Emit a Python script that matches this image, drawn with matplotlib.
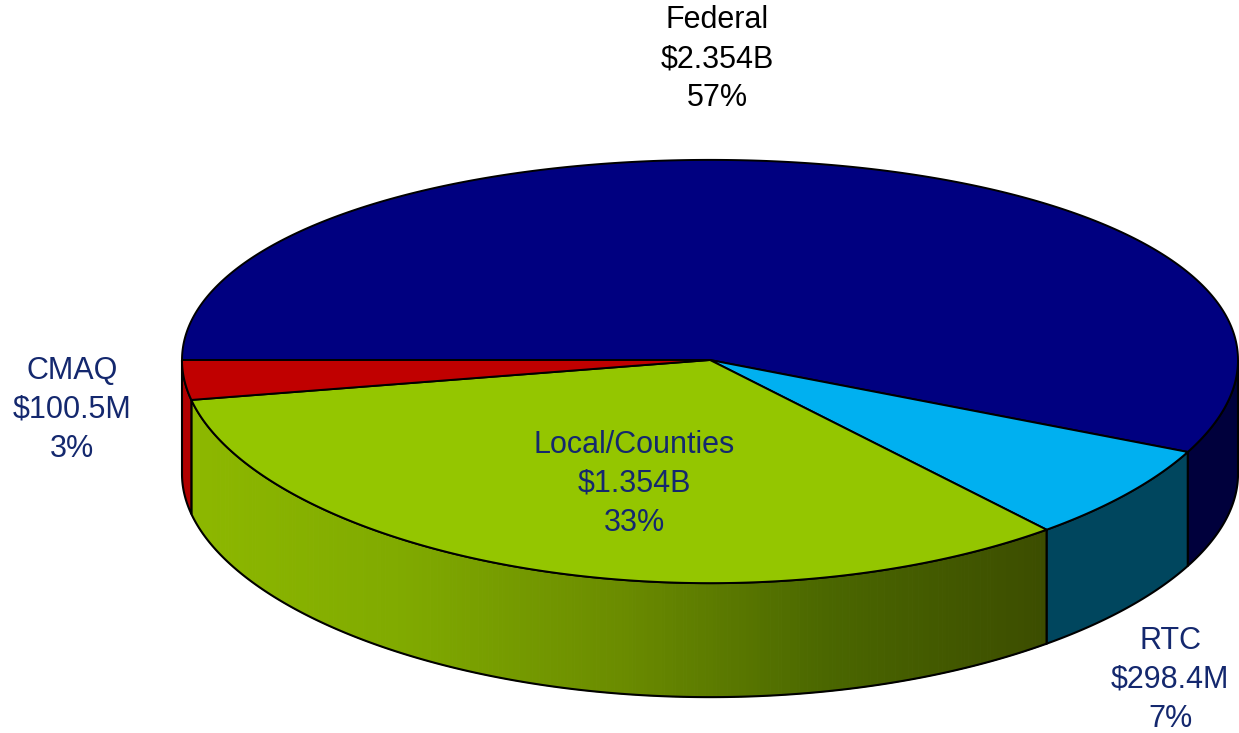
import numpy as np
import matplotlib
matplotlib.use("Agg")
import matplotlib.pyplot as plt
from matplotlib.colors import LinearSegmentedColormap
from matplotlib.patches import Polygon

# data
names = ["Federal", "RTC", "Local/Counties", "CMAQ"]
amounts = ["$2.354B", "$298.4M", "$1.354B", "$100.5M"]
shares = [57, 7, 33, 3]

# styles
top_colors = ["#000080", "#00b0f0", "#94c600", "#c00000"]
wall_colors = ["#00003c", "#00465e", None, "#b00000"]
green_wall = LinearSegmentedColormap.from_list(
    "gw", ["#8db800", "#80aa00", "#6b8c00", "#4a6600", "#3c4d00"])
label_colors = ["black", "#14286e", "#14286e", "#14286e"]
label_pos = [(717, 59), (1170, 680), (634, 484), (72, 410)]

# pie geometry (pixels), slight perspective
cx, cy = 710, 360
rx = 528
a_, k_ = 211.0, 0.0544
depth = 114
start = 180.0  # degrees, slices go clockwise


def ell(t):
    s = np.sin(t)
    return cx + rx * np.cos(t), cy - a_ * s / (1 + k_ * s)


fig = plt.figure(figsize=(12.39, 7.33), dpi=100)
ax = fig.add_axes([0, 0, 1, 1])
ax.set_xlim(0, 1239)
ax.set_ylim(733, 0)
ax.axis("off")

total = sum(shares)
angles = [start]
for v in shares:
    angles.append(angles[-1] - 360.0 * v / total)

# side walls (front half only)
for i in range(len(shares)):
    t0, t1 = angles[i], angles[i + 1]
    if t0 > 0 and t1 < 0:
        lo, hi = t1, 0.0
    elif t1 >= 0:
        continue
    else:
        lo, hi = max(t1, -180.0), t0
    ts = np.radians(np.linspace(hi, lo, 300))
    xs, ys = ell(ts)
    if wall_colors[i] is None:
        for j in range(len(ts) - 1):
            frac = (xs[j] - 190) / (1048 - 190)
            c = green_wall(np.clip(frac, 0, 1))
            poly = [(xs[j], ys[j]), (xs[j + 1], ys[j + 1]),
                    (xs[j + 1], ys[j + 1] + depth), (xs[j], ys[j] + depth)]
            ax.add_patch(Polygon(poly, closed=True, fc=c, ec=c, lw=0.8))
    else:
        poly = list(zip(xs, ys)) + list(zip(xs[::-1], ys[::-1] + depth))
        ax.add_patch(Polygon(poly, closed=True, fc=wall_colors[i], ec="none"))
    outline = list(zip(xs, ys)) + list(zip(xs[::-1], ys[::-1] + depth))
    ax.add_patch(Polygon(outline, closed=True, fc="none", ec="black", lw=1.5))

# top faces
for i in range(len(shares)):
    ts = np.radians(np.linspace(angles[i], angles[i + 1], 300))
    xs, ys = ell(ts)
    poly = [(cx, cy)] + list(zip(xs, ys))
    ax.add_patch(Polygon(poly, closed=True, fc=top_colors[i],
                         ec="black", lw=1.4, joinstyle="round"))

# labels
for i in range(len(shares)):
    x, y = label_pos[i]
    ax.text(x, y, "%s\n%s\n%d%%" % (names[i], amounts[i], shares[i]),
            ha="center", va="center", fontsize=22, linespacing=1.38,
            family="Liberation Sans", color=label_colors[i])

plt.savefig("out.png", dpi=100)
